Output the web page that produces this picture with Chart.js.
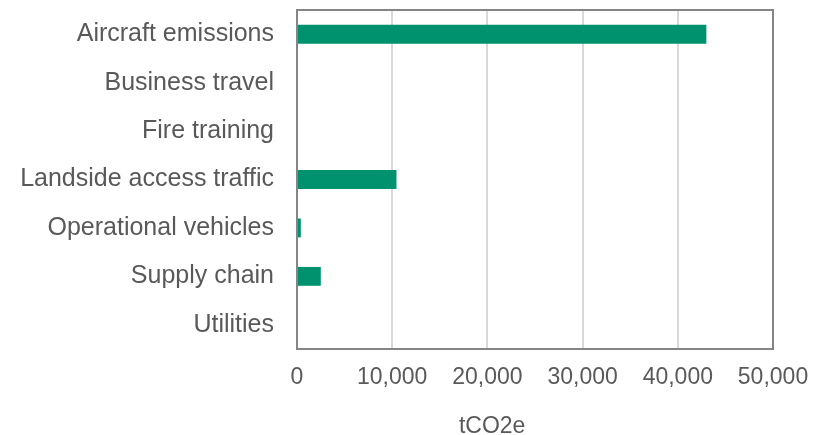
<!DOCTYPE html>
<html>
<head>
<meta charset="utf-8">
<script src="https://cdn.jsdelivr.net/npm/chart.js@4/dist/chart.umd.min.js"></script>
<style>
  html, body { margin: 0; padding: 0; background: #ffffff; }
  #wrap { width: 830px; height: 435px; position: relative; }
</style>
</head>
<body>
<div id="wrap"><canvas id="c" width="830" height="435"></canvas></div>
<script>
const categories = ["Aircraft emissions", "Business travel", "Fire training", "Landside access traffic", "Operational vehicles", "Supply chain", "Utilities"];
const emissions = [43000, 0, 0, 10450, 400, 2500, 0];
const xTicks = [0, 10000, 20000, 30000, 40000, 50000];
const xTitle = "tCO2e";

const TEXT = "#595959";
const FONT = "'Liberation Sans', Arial, sans-serif";

const framePlugin = {
  id: 'frame',
  afterDatasetsDraw(chart) {
    const a = chart.chartArea;
    const ctx = chart.ctx;
    ctx.save();
    ctx.strokeStyle = '#858585';
    ctx.lineWidth = 2;
    ctx.strokeRect(a.left, a.top, a.right - a.left, a.bottom - a.top);
    ctx.restore();
  },
  afterDraw(chart) {
    const ctx = chart.ctx;
    const xs = chart.scales.x;
    ctx.save();
    ctx.fillStyle = TEXT;
    ctx.font = "23px " + FONT;
    ctx.textAlign = 'center';
    ctx.textBaseline = 'alphabetic';
    ctx.fillText(xTitle, xs.getPixelForValue(20500), 433);
    ctx.restore();
  }
};

new Chart(document.getElementById('c'), {
  type: 'bar',
  data: {
    labels: categories,
    datasets: [{
      data: emissions,
      backgroundColor: '#00926F',
      borderWidth: 0,
      categoryPercentage: 1.0,
      barPercentage: 0.39
    }]
  },
  options: {
    indexAxis: 'y',
    responsive: false,
    animation: false,
    devicePixelRatio: 1,
    layout: { padding: { top: 10, right: 57, left: 0, bottom: 0 } },
    plugins: { legend: { display: false }, tooltip: { enabled: false } },
    scales: {
      x: {
        min: 0,
        max: 50000,
        afterBuildTicks(scale) { scale.ticks = xTicks.map(v => ({ value: v })); },
        afterFit(scale) { scale.height = 86; scale.paddingLeft = 0; scale.paddingRight = 0; },
        ticks: {
          color: TEXT,
          font: { family: FONT, size: 23 },
          padding: 15,
          maxRotation: 0,
          callback: v => Number(v).toLocaleString('en-US')
        },
        grid: { color: '#d9d9d9', lineWidth: 2, drawTicks: false },
        border: { display: false }
      },
      y: {
        afterFit(scale) { scale.width = 297; scale.paddingTop = 0; scale.paddingBottom = 0; },
        ticks: {
          color: TEXT,
          font: { family: FONT, size: 25 },
          padding: 23
        },
        grid: { display: false, drawTicks: false },
        border: { display: false }
      }
    }
  },
  plugins: [framePlugin]
});
</script>
</body>
</html>
